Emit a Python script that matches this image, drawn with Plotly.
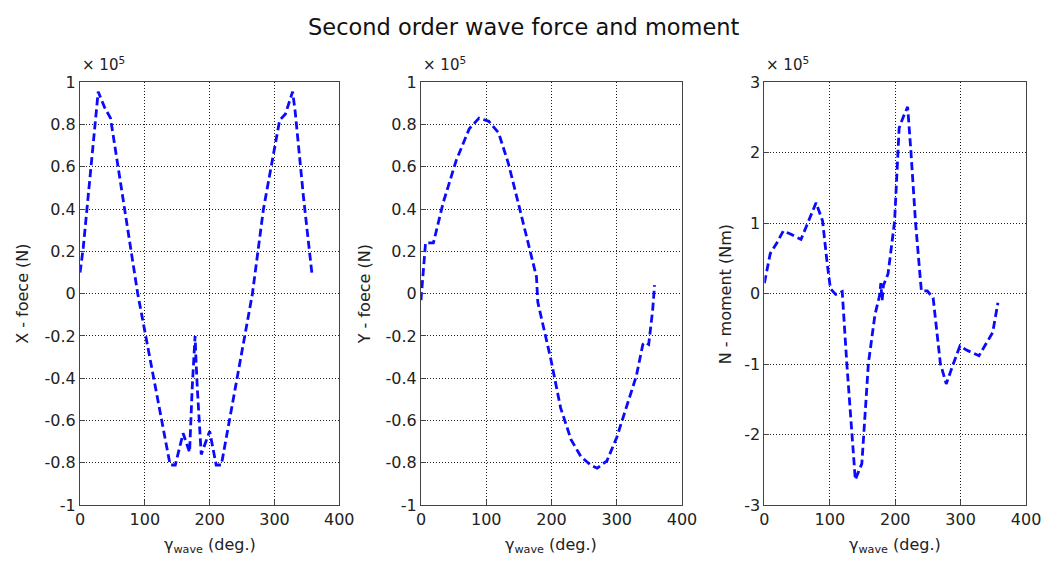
import plotly.graph_objects as go

# Wave heading angle (deg.) and second order drift loads (units of 1e5)
x_force_deg = [0, 5, 28, 38, 47, 89, 139, 147, 159, 169, 173, 175, 177.5, 179, 181, 187,
               200, 210, 218, 266, 283, 308, 317, 328, 332, 345, 358]
x_force = [0.10, 0.22, 0.955, 0.88, 0.83, 0.0, -0.81, -0.81, -0.66, -0.75, -0.45, -0.35,
           -0.20, -0.32, -0.45, -0.76, -0.65, -0.81, -0.81, 0.0, 0.40, 0.82, 0.85, 0.955,
           0.86, 0.45, 0.09]

y_force_deg = [0, 7, 19, 34, 54, 74, 89, 104, 119, 134, 149, 164, 177, 179, 189, 199, 214,
               230, 245, 260, 270, 285, 300, 315, 330, 340, 344, 349, 355, 358]
y_force = [-0.03, 0.24, 0.24, 0.43, 0.63, 0.78, 0.83, 0.815, 0.76, 0.615, 0.43, 0.25, 0.08,
           -0.04, -0.175, -0.31, -0.54, -0.69, -0.77, -0.81, -0.825, -0.79, -0.68, -0.54,
           -0.39, -0.24, -0.23, -0.24, -0.08, 0.04]

n_moment_deg = [0, 9, 19, 29, 39, 56, 79, 89, 96, 101, 109, 119, 126, 134, 139, 149, 159,
                169, 176, 178, 180, 182, 189, 199, 206, 212, 219, 224, 231, 238, 240, 249,
                258, 269, 278, 289, 299, 309, 328, 349, 357]
n_moment = [0.15, 0.57, 0.72, 0.89, 0.85, 0.77, 1.29, 1.03, 0.43, 0.07, -0.01, 0.03, -0.99,
            -2.0, -2.64, -2.41, -0.99, -0.30, -0.03, 0.15, -0.10, 0.12, 0.28, 1.02, 2.35,
            2.5, 2.65, 2.02, 1.02, 0.25, 0.04, 0.04, -0.06, -0.99, -1.28, -0.99, -0.74,
            -0.80, -0.88, -0.55, -0.13]

x_ticks = [0, 100, 200, 300, 400]
force_ticks = [1, 0.8, 0.6, 0.4, 0.2, 0, -0.2, -0.4, -0.6, -0.8, -1]
force_labels = ["1", "0.8", "0.6", "0.4", "0.2", "0", "-0.2", "-0.4", "-0.6", "-0.8", "-1"]
moment_ticks = [3, 2, 1, 0, -1, -2, -3]
moment_labels = ["3", "2", "1", "0", "-1", "-2", "-3"]

y_titles = ["X - foece (N)", "Y - foece (N)", "N - moment (Nm)"]
x_title = "γ<sub>wave</sub> (deg.)"
main_title = "Second order wave force and moment"

W, H = 1059, 570
FONT = "DejaVu Sans"

# panel placement in pixels (left, right), shared top/bottom
panels = [(76.5, 340.7), (424, 690), (774, 1040.7)]
top_px, bottom_px = 75.7, 513.3

fig = go.Figure()
series = [(x_force_deg, x_force), (y_force_deg, y_force), (n_moment_deg, n_moment)]
for i, (xs, ys) in enumerate(series):
    suffix = "" if i == 0 else str(i + 1)
    fig.add_trace(go.Scatter(
        x=xs, y=ys, mode="lines", xaxis="x" + suffix, yaxis="y" + suffix,
        line=dict(color="#0a0aff", width=2.8, dash="8px,4px"), showlegend=False,
    ))

axis_common = dict(
    showline=True, mirror=True, linecolor="#444", linewidth=1.2,
    showgrid=True, gridcolor="#222", gridwidth=1.1, griddash="1px,2px",
    zeroline=False, ticks="inside", ticklen=5, tickcolor="#444",
    tickfont=dict(family=FONT, size=16, color="#222"),
)

layout = dict(
    width=W, height=H, margin=dict(l=0, r=0, t=0, b=0),
    paper_bgcolor="white", plot_bgcolor="white", showlegend=False,
)
annotations = []
for i, (l, r) in enumerate(panels):
    suffix = "" if i == 0 else str(i + 1)
    layout["xaxis" + suffix] = dict(
        axis_common, domain=[l / W, r / W], range=[0, 400],
        tickvals=x_ticks, ticktext=[str(t) for t in x_ticks],
        anchor="y" + suffix,
    )
    if i < 2:
        yv, yt, yr = force_ticks, force_labels, [-1, 1]
    else:
        yv, yt, yr = moment_ticks, moment_labels, [-3, 3]
    layout["yaxis" + suffix] = dict(
        axis_common, domain=[1 - bottom_px / H, 1 - top_px / H], range=yr,
        tickvals=yv, ticktext=yt, anchor="x" + suffix,
    )
    # exponent note above each panel
    annotations.append(dict(
        x=l / W, y=1 - 69 / H, xref="paper", yref="paper", xanchor="left",
        yanchor="bottom", text="× 10<sup>5</sup>", showarrow=False,
        font=dict(family=FONT, size=15, color="#222"),
    ))
    # x-axis title
    annotations.append(dict(
        x=(l + r) / 2 / W, y=1 - 555 / H, xref="paper", yref="paper",
        xanchor="center", yanchor="middle", text=x_title, showarrow=False,
        font=dict(family=FONT, size=16, color="#222"),
    ))

# y-axis titles
for px, txt in zip([18, 366, 734], y_titles):
    annotations.append(dict(
        x=px / W, y=1 - 295 / H, xref="paper", yref="paper", xanchor="center",
        yanchor="middle", text=txt, textangle=-90, showarrow=False,
        font=dict(family=FONT, size=16, color="#222"),
    ))

annotations.append(dict(
    x=529 / W, y=1 - 19 / H, xref="paper", yref="paper", xanchor="center",
    yanchor="middle", text=main_title, showarrow=False,
    font=dict(family=FONT, size=22.5, color="#111"),
))

layout["annotations"] = annotations
fig.update_layout(**layout)
fig.write_html("out.html")
